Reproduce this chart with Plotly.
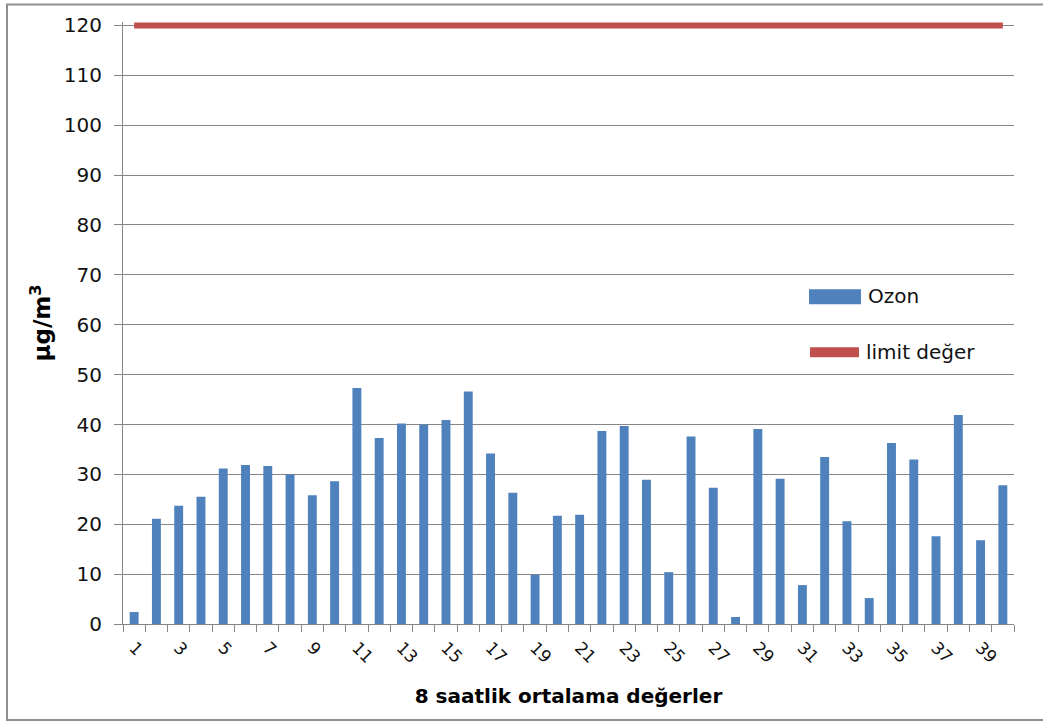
import plotly.graph_objects as go

# 8-hour mean ozone concentrations (µg/m³) and the limit value
periods = list(range(1, 41))
ozon = [2.4, 21.1, 23.7, 25.5, 31.2, 31.9, 31.7, 30.0, 25.8, 28.6,
        47.3, 37.3, 40.2, 40.0, 40.9, 46.6, 34.2, 26.3, 9.9, 21.7,
        21.9, 38.7, 39.7, 28.9, 10.4, 37.6, 27.3, 1.4, 39.1, 29.1,
        7.8, 33.5, 20.6, 5.2, 36.3, 33.0, 17.6, 41.9, 16.8, 27.8]
limit_value = [120] * len(periods)
tick_labels = [str(p) for p in periods if p % 2 == 1]

Y_TOP = 120.7  # small headroom so the thick limit line is not clipped

W, H = 1043, 722
ML, MR, MB = 123, 29, 98
# place the 120 gridline at 25 px from the top
PX_PER_UNIT = (H - MB - 25) / 120
MT = 25 - (Y_TOP - 120) * PX_PER_UNIT
PW, PH = W - ML - MR, H - MT - MB

FONT = "DejaVu Sans"
GRID = "#868686"
BLUE = "#4F81BD"
RED = "#C0504D"


def px(xp):
    return (xp - ML) / PW


def py(yp):
    return (H - MB - yp) / PH


fig = go.Figure()
fig.add_trace(go.Bar(
    x=periods, y=ozon, name="Ozon", width=0.4,
    marker=dict(color=BLUE, line=dict(width=0)),
    showlegend=False,
))
fig.add_trace(go.Scatter(
    x=periods, y=limit_value, name="limit değer", mode="lines",
    line=dict(color=RED, width=6), cliponaxis=False, showlegend=False,
))

shapes = [
    # outer chart frame
    dict(type="rect", xref="paper", yref="paper",
         x0=px(7), x1=px(1060), y0=py(720), y1=py(4),
         line=dict(color="#8f8f8f", width=2), layer="below"),
    # legend keys
    dict(type="rect", xref="paper", yref="paper",
         x0=px(809), x1=px(861), y0=py(304), y1=py(289),
         fillcolor=BLUE, line=dict(width=0)),
    dict(type="line", xref="paper", yref="paper",
         x0=px(810), x1=px(859), y0=py(352), y1=py(352),
         line=dict(color=RED, width=10)),
]

annotations = [
    dict(text="Ozon", xref="paper", yref="paper", x=px(866), y=py(296),
         xanchor="left", yanchor="middle", showarrow=False,
         font=dict(family=FONT, size=20, color="#111")),
    dict(text="limit değer", xref="paper", yref="paper", x=px(864), y=py(352),
         xanchor="left", yanchor="middle", showarrow=False,
         font=dict(family=FONT, size=20, color="#111")),
]

fig.update_layout(
    width=W, height=H,
    margin=dict(l=ML, r=MR, t=MT, b=MB),
    paper_bgcolor="white", plot_bgcolor="white",
    font=dict(family=FONT, color="#111"),
    showlegend=False,
    shapes=shapes, annotations=annotations,
    xaxis=dict(
        range=[0.5, 40.5],
        tickmode="array", tickvals=[p for p in periods if p % 2 == 1],
        ticktext=tick_labels, tickangle=45, ticks="",
        ticklabelstandoff=6,
        tickfont=dict(family=FONT, size=17, color="#111"),
        showgrid=False, zeroline=False,
        showline=True, linecolor=GRID, linewidth=1,
        minor=dict(tickmode="linear", tick0=0.5, dtick=1, ticks="outside",
                   ticklen=7, tickcolor=GRID, tickwidth=1, showgrid=False),
        title=dict(text="<b>8 saatlik ortalama değerler</b>",
                   font=dict(family=FONT, size=20, color="#000"), standoff=22),
    ),
    yaxis=dict(
        range=[0, Y_TOP], tickmode="array",
        tickvals=list(range(0, 121, 10)),
        ticks="outside", ticklen=8, tickcolor=GRID,
        ticklabelstandoff=8,
        tickfont=dict(family=FONT, size=20, color="#111"),
        showgrid=True, gridcolor=GRID, gridwidth=1,
        zeroline=False, showline=True, linecolor=GRID, linewidth=1,
        title=dict(text="<b>µg/m<sup>3</sup></b>",
                   font=dict(family=FONT, size=23, color="#000"), standoff=6),
    ),
)

fig.write_html("out.html")
